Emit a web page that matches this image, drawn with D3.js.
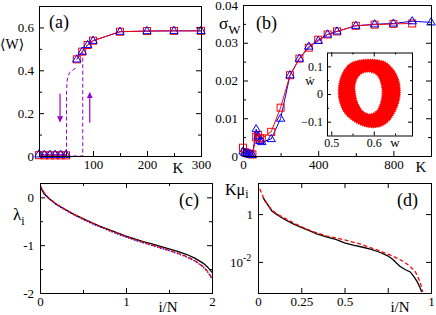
<!DOCTYPE html>
<html>
<head>
<meta charset="utf-8">
<script src="https://cdn.jsdelivr.net/npm/d3@7"></script>
<style>
body { margin: 0; background: #fff; }
svg { display: block; font-family: 'Liberation Serif', 'DejaVu Serif', serif; }
</style>
</head>
<body>
<svg id="fig" width="436" height="315"></svg>
<script>
// (a) mean order parameter vs K; lower branch = first 6 points
const kA = [0, 10, 20, 30, 40, 50, 70, 80, 90, 100, 150, 200, 250, 300];
const wSquares = [0.004, 0.003, 0.003, 0.003, 0.003, 0.003, 0.451, 0.487, 0.518, 0.538, 0.580, 0.583, 0.584, 0.584];
const wTriangles = [0.008, 0.006, 0.006, 0.006, 0.006, 0.006, 0.451, 0.487, 0.518, 0.538, 0.580, 0.583, 0.584, 0.584];
const lowerBranchA = 6;
// hysteresis branches (dashed)
const downK = [68, 62, 57, 54, 52, 51, 51];
const downW = [0.41, 0.40, 0.39, 0.375, 0.35, 0.30, 0];
const upK = [51, 81, 81];
const upW = [0, 0, 0.485];
const arrowDown = { k: 39, from: 0.29, to: 0.16 };
const arrowUp = { k: 94, from: 0.155, to: 0.295 };

// (b) sigma_w vs K
const kB = [0, 10, 20, 30, 40, 50, 70, 80, 90, 100, 150, 200, 250, 300, 350, 400, 450, 500, 600, 700, 800, 900, 1000];
const sigmaSquares = [0.0022, 0.0010, 0.0008, 0.0006, 0.0005, 0.0004, 0.0050, 0.0056, 0.0046, 0.0047, 0.0064, 0.0128, 0.0214, 0.0258, 0.0287, 0.0308, 0.0322, 0.0330, 0.0345, 0.0348, 0.0350, 0.0351];
const sigmaTriangles = [0.0012, 0.0008, 0.0006, 0.0005, 0.0003, 0.0003, 0.0071, 0.0052, 0.0040, 0.0037, 0.0045, 0.0099, 0.0214, 0.0258, 0.0290, 0.0305, 0.0322, 0.0330, 0.0345, 0.0349, 0.0351, 0.0357, 0.0354];

// inset: phase portrait ring (outer / inner edge of the point cloud)
const ringOuterW = [0.591, 0.626, 0.646, 0.658, 0.662, 0.660, 0.652, 0.638, 0.619, 0.599, 0.575, 0.552, 0.532, 0.521, 0.517, 0.519, 0.527, 0.544, 0.568];
const ringOuterV = [0.125, 0.116, 0.088, 0.052, 0.016, -0.021, -0.057, -0.093, -0.115, -0.121, -0.115, -0.097, -0.069, -0.033, 0.004, 0.040, 0.076, 0.109, 0.122];
const ringInnerW = [0.587, 0.607, 0.617, 0.620, 0.616, 0.607, 0.591, 0.575, 0.564, 0.557, 0.556, 0.564, 0.574];
const ringInnerV = [0.080, 0.070, 0.040, 0.004, -0.033, -0.061, -0.073, -0.063, -0.039, -0.003, 0.034, 0.064, 0.076];

// (c) lambda_i vs i/N
const iNc = [0, 0.05, 0.1, 0.2, 0.3, 0.4, 0.5, 0.6, 0.7, 0.8, 0.9, 1.0, 1.1, 1.2, 1.3, 1.4, 1.5, 1.6, 1.7, 1.8, 1.9, 1.95, 2.0];
const lambdaBlack = [0.22, 0.07, -0.02, -0.16, -0.26, -0.36, -0.445, -0.53, -0.605, -0.675, -0.745, -0.81, -0.87, -0.925, -0.975, -1.025, -1.075, -1.13, -1.19, -1.27, -1.38, -1.46, -1.57];
const lambdaRed = [0.26, 0.09, -0.01, -0.15, -0.26, -0.36, -0.45, -0.535, -0.61, -0.685, -0.755, -0.82, -0.885, -0.94, -0.995, -1.05, -1.105, -1.165, -1.235, -1.32, -1.45, -1.55, -1.69];
const lambdaBlue = [0.25, 0.08, -0.02, -0.16, -0.27, -0.37, -0.46, -0.545, -0.62, -0.695, -0.765, -0.83, -0.895, -0.95, -1.005, -1.06, -1.115, -1.175, -1.245, -1.33, -1.46, -1.56, -1.70];

// (d) K mu_i vs i/N (log)
const iNdBlack = [0.028, 0.08, 0.11, 0.15, 0.2, 0.25, 0.3, 0.34, 0.4, 0.45, 0.5, 0.55, 0.6, 0.65, 0.7, 0.75, 0.78, 0.8, 0.82, 0.85, 0.88, 0.9, 0.92, 0.935, 0.946];
const muBlack = [5.0, 1.35, 0.95, 0.62, 0.40, 0.28, 0.20, 0.15, 0.11, 0.088, 0.062, 0.050, 0.042, 0.034, 0.026, 0.018, 0.0125, 0.009, 0.0066, 0.0048, 0.0038, 0.0025, 0.0015, 0.0009, 0.00055];
const iNdRed = [0.01, 0.04, 0.079, 0.11, 0.146, 0.2, 0.243, 0.3, 0.339, 0.4, 0.435, 0.5, 0.532, 0.6, 0.628, 0.7, 0.724, 0.76, 0.8, 0.84, 0.879, 0.91, 0.927, 0.94, 0.952];
const muRed = [11.5, 3.6, 1.5, 1.0, 0.72, 0.45, 0.31, 0.21, 0.165, 0.12, 0.107, 0.083, 0.072, 0.054, 0.045, 0.030, 0.025, 0.020, 0.0148, 0.0105, 0.0066, 0.0038, 0.0021, 0.0012, 0.00056];

const svg = d3.select('#fig');
const RED = '#ff0000', BLUE = '#0000ff', PURPLE = '#9a00d0';
const serif = "'Liberation Serif', 'DejaVu Serif', serif";

svg.append('defs').append('marker')
    .attr('id', 'head').attr('viewBox', '0 0 10 10')
    .attr('refX', 9).attr('refY', 5)
    .attr('markerWidth', 5).attr('markerHeight', 5)
    .attr('orient', 'auto-start-reverse')
    .append('path').attr('d', 'M0,0L10,5L0,10Z').attr('fill', PURPLE);

function clip(id, x, y) {
    svg.select('defs').append('clipPath').attr('id', id)
        .append('rect')
        .attr('x', x.range()[0]).attr('y', y.range()[1])
        .attr('width', x.range()[1] - x.range()[0])
        .attr('height', y.range()[0] - y.range()[1]);
}

function axes(x, y, o) {
    const g = svg.append('g');
    const [xl, xr] = x.range(), [yb, yt] = y.range();
    const sides = [
        [d3.axisBottom, x, `translate(0,${yb})`, o.xMajor, o.xMinor, o.xFmt, o.xPad],
        [d3.axisLeft, y, `translate(${xl},0)`, o.yMajor, o.yMinor, o.yFmt, o.yPad],
        [d3.axisRight, y, `translate(${xr},0)`, o.yMajor, o.yMinor, null, 0]
    ];
    if (o.top !== false) sides.push([d3.axisTop, x, `translate(0,${yt})`, o.xMajor, o.xMinor, null, 0]);
    sides.forEach(([mk, sc, tr, major, minor, fmt, pad]) => {
        g.append('g').attr('transform', tr)
            .call(mk(sc).tickValues(minor || []).tickSize(-(o.minorLen || 3)).tickFormat(''));
        g.append('g').attr('transform', tr)
            .call(mk(sc).tickValues(major).tickSize(-(o.majorLen || 5)).tickPadding(pad).tickFormat(fmt || (() => '')));
    });
    g.selectAll('.domain').remove();
    g.selectAll('.tick line').attr('stroke', '#000');
    g.selectAll('.tick text')
        .attr('font-family', serif)
        .attr('font-size', o.fs || 13)
        .attr('fill', '#000');
    g.append('rect')
        .attr('x', xl + 0.5).attr('y', yt + 0.5)
        .attr('width', xr - xl).attr('height', yb - yt)
        .attr('fill', 'none').attr('stroke', '#000');
}

function label(x, y, txt, size, anchor) {
    return svg.append('text')
        .attr('x', x).attr('y', y)
        .attr('font-family', serif)
        .attr('font-size', size)
        .attr('text-anchor', anchor || 'start')
        .attr('fill', '#000')
        .text(txt);
}

function squares(g, x, y, xs, ys) {
    g.selectAll(null).data(ys).enter().append('rect')
        .attr('x', (d, i) => x(xs[i]) - 3.5)
        .attr('y', d => y(d) - 3.5)
        .attr('width', 7).attr('height', 7)
        .attr('fill', 'none').attr('stroke', RED).attr('stroke-width', 1);
}

function triangles(g, x, y, xs, ys) {
    g.selectAll(null).data(ys).enter().append('path')
        .attr('transform', (d, i) => `translate(${x(xs[i])},${y(d)})`)
        .attr('d', 'M0,-4.6L4.2,2.6L-4.2,2.6Z')
        .attr('fill', 'none').attr('stroke', BLUE).attr('stroke-width', 1);
}

function series(g, x, y, xs, ys, color, dash, width) {
    g.append('path')
        .datum(ys.map((v, i) => [xs[i], v]))
        .attr('d', d3.line().x(d => x(d[0])).y(d => y(d[1])))
        .attr('fill', 'none').attr('stroke', color)
        .attr('stroke-width', width || 1)
        .attr('stroke-dasharray', dash || null);
}

// ---------- (a) ----------
{
    const x = d3.scaleLinear().domain([0, 300]).range([39, 201]);
    const y = d3.scaleLinear().domain([0, 0.7]).range([156, 6]);
    clip('ca', x, y);
    const g = svg.append('g').attr('clip-path', 'url(#ca)');
    series(g, x, y, downK, downW, PURPLE, '4,2.5');
    series(g, x, y, upK, upW, PURPLE, '4,2.5');
    [arrowDown, arrowUp].forEach(a => {
        g.append('line')
            .attr('x1', x(a.k)).attr('x2', x(a.k))
            .attr('y1', y(a.from)).attr('y2', y(a.to))
            .attr('stroke', PURPLE).attr('stroke-width', 1.2)
            .attr('marker-end', 'url(#head)');
    });
    // two branches, no line across the jump
    [[0, lowerBranchA], [lowerBranchA, kA.length]].forEach(([a, b]) => {
        series(g, x, y, kA.slice(a, b), wTriangles.slice(a, b), BLUE);
        series(g, x, y, kA.slice(a, b), wSquares.slice(a, b), RED);
    });
    const gm = svg.append('g');
    squares(gm, x, y, kA, wSquares);
    triangles(gm, x, y, kA, wTriangles);
    axes(x, y, {
        top: false,
        xMajor: [0, 100, 200, 300], xMinor: [50, 150, 250],
        xFmt: d => d === 0 ? '' : d, xPad: 4,
        yMajor: [0, 0.2, 0.4, 0.6], yMinor: [0.1, 0.3, 0.5, 0.7],
        yFmt: d => d === 0 ? '0' : d3.format('.1f')(d), yPad: 5
    });
    label(0, 49, '\u27E8W\u27E9', 14);
    label(49, 28, '(a)', 18);
    label(178, 173, 'K', 15, 'middle');
}

// ---------- (b) ----------
{
    const x = d3.scaleLinear().domain([0, 1000]).range([243, 431]);
    const y = d3.scaleLinear().domain([0, 0.04]).range([156, 5]);
    clip('cb', x, y);
    const g = svg.append('g').attr('clip-path', 'url(#cb)');
    series(g, x, y, kB, sigmaTriangles, BLUE);
    series(g, x, y, kB, sigmaSquares, RED);
    const gm = svg.append('g');
    squares(gm, x, y, kB, sigmaSquares);
    triangles(gm, x, y, kB, sigmaTriangles);
    axes(x, y, {
        top: false,
        xMajor: [0, 400, 800], xMinor: [200, 600, 1000],
        xFmt: d => d, xPad: 4,
        yMajor: [0, 0.01, 0.02, 0.03, 0.04], yMinor: [0.005, 0.015, 0.025, 0.035],
        yFmt: d => d === 0 ? '0' : d3.format('.2f')(d), yPad: 5
    });
    label(256, 29, '(b)', 18);
    const s = label(219, 29, '\u03C3', 17);
    s.append('tspan').attr('dy', 5).attr('font-size', 13).text('W');
    label(421, 172, 'K', 15, 'middle');

    // inset
    const xi = d3.scaleLinear().domain([0.49, 0.69]).range([327, 412]);
    const yi = d3.scaleLinear().domain([-0.15, 0.15]).range([135.5, 52.5]);
    svg.append('rect')
        .attr('x', 327).attr('y', 52.5).attr('width', 85).attr('height', 83)
        .attr('fill', '#fff');
    clip('ci', xi, yi);
    const gi = svg.append('g').attr('clip-path', 'url(#ci)');
    const loop = d3.line().x(d => xi(d[0])).y(d => yi(d[1])).curve(d3.curveCatmullRomClosed);
    const outer = ringOuterW.map((w, i) => [w, ringOuterV[i]]);
    const inner = ringInnerW.map((w, i) => [w, ringInnerV[i]]);
    gi.append('path')
        .attr('d', loop(outer) + loop(inner))
        .attr('fill', RED).attr('fill-rule', 'evenodd')
        .attr('stroke', RED).attr('stroke-width', 1.4)
        .attr('stroke-dasharray', '1.2,1');
    axes(xi, yi, {
        xMajor: [0.5, 0.6], xMinor: [0.55, 0.65],
        xFmt: d => d3.format('.1f')(d), xPad: 3,
        yMajor: [-0.1, 0, 0.1], yMinor: [-0.05, 0.05],
        yFmt: d => d === 0 ? '0' : d3.format('.1f')(d), yPad: 4,
        fs: 12, majorLen: 4, minorLen: 2
    });
    label(xi(0.65), 147, 'w', 13, 'middle');
    label(310, 85, '\u1E87', 13, 'middle');
}

// ---------- (c) ----------
{
    const x = d3.scaleLinear().domain([0, 2]).range([40, 212]);
    const y = d3.scaleLinear().domain([-2, 0.3]).range([293, 183]);
    clip('cc', x, y);
    const g = svg.append('g').attr('clip-path', 'url(#cc)');
    series(g, x, y, iNc, lambdaBlack, '#000', null, 1.3);
    series(g, x, y, iNc, lambdaBlue, BLUE, '1.5,1.5', 1.3);
    series(g, x, y, iNc, lambdaRed, RED, '4,2.5', 1.3);
    axes(x, y, {
        xMajor: [0, 1, 2], xMinor: [0.5, 1.5],
        xFmt: d => d, xPad: 4,
        yMajor: [-2, -1, 0], yMinor: [-1.5, -0.5],
        yFmt: d => d, yPad: 6
    });
    label(179, 206, '(c)', 18);
    const l = label(13, 220, '\u03BB', 17);
    l.append('tspan').attr('dx', 0).attr('dy', 5).attr('font-size', 12).text('i');
    label(168, 312, 'i/N', 15, 'middle');
}

// ---------- (d) ----------
{
    const x = d3.scaleLinear().domain([0, 1]).range([258, 431]);
    const y = d3.scaleLog().domain([5e-4, 20]).range([293, 183]);
    clip('cd', x, y);
    const g = svg.append('g').attr('clip-path', 'url(#cd)');
    series(g, x, y, iNdBlack, muBlack, '#000', null, 1.3);
    series(g, x, y, iNdRed, muRed, RED, '4,2.5', 1.3);
    axes(x, y, {
        xMajor: [0, 0.25, 0.5, 0.75, 1], xMinor: [],
        xFmt: d => d === 0.75 ? '' : d, xPad: 4,
        yMajor: [0.01, 1], yMinor: [],
        yFmt: d => '', yPad: 5
    });
    label(253, 219, '1', 13, 'end');
    const t = label(230, 267, '10', 13);
    t.append('tspan').attr('dy', -6).attr('font-size', 10).text('-2');
    label(397, 206, '(d)', 18);
    const k = label(225, 195, 'K\u03BC', 16);
    k.append('tspan').attr('dy', 3).attr('font-size', 12).text('i');
    label(400, 312, 'i/N', 15, 'middle');
}
</script>
</body>
</html>
